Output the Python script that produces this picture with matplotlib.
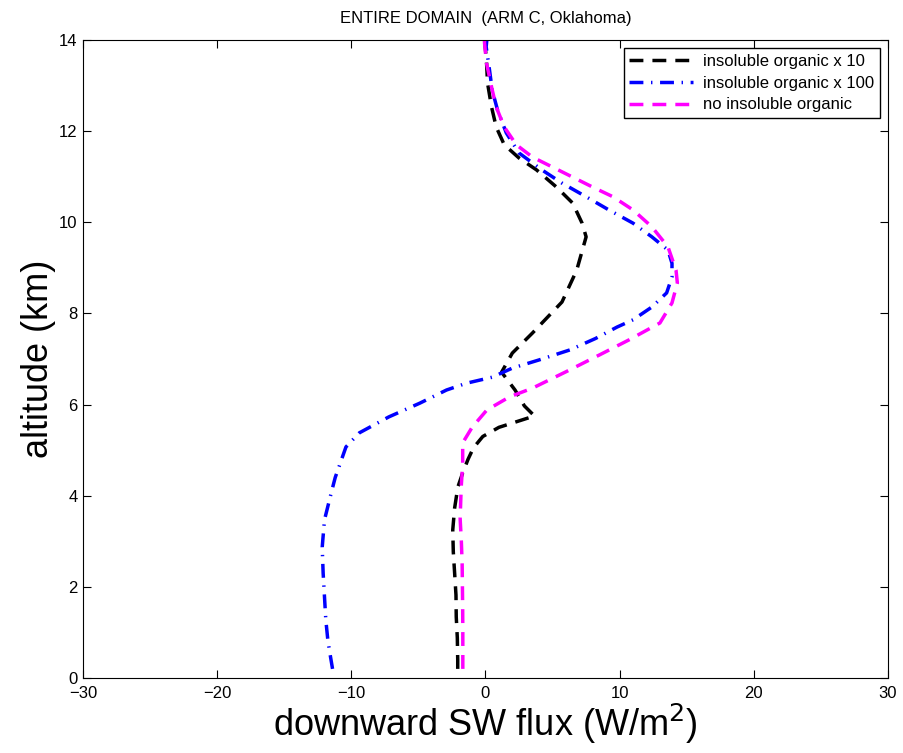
import matplotlib
matplotlib.use('Agg')
import matplotlib.pyplot as plt

plt.rcParams['font.family'] = ['Liberation Sans', 'DejaVu Sans']

# insoluble organic x 10
alt_x10 = [0.2, 0.4, 0.88, 1.34, 1.82, 2.3, 2.77, 3.25, 3.73, 4.19, 4.5, 4.8, 5.05, 5.3, 5.5, 5.75,
           5.97, 6.32, 6.71, 7.13, 7.57, 8.25, 8.95, 9.68, 9.98, 10.42, 10.77, 11.15, 11.41, 11.7,
           12.09, 12.53, 13.06, 13.56, 14.0]
flux_x10 = [-2.07, -2.07, -2.1, -2.18, -2.2, -2.3, -2.4, -2.44, -2.3, -2.06, -1.7, -1.3, -0.9, -0.2, 1.0, 3.65,
            2.9, 2.2, 1.2, 2.0, 3.5, 5.7, 6.8, 7.5, 7.2, 6.5, 5.3, 3.8, 2.5, 1.4,
            0.8, 0.45, 0.15, 0.07, -0.07]

# insoluble organic x 100
alt_x100 = [0.2, 0.55, 0.83, 1.27, 1.78, 2.3, 2.87, 3.47, 4.06, 4.4, 4.65, 5.07, 5.38, 5.73, 6.03, 6.32,
            6.47, 6.6, 6.8, 6.98, 7.2, 7.45, 7.7, 7.86, 8.14, 8.45, 8.8, 9.1, 9.39, 9.68, 9.98,
            10.27, 10.56, 10.86, 11.15, 11.52, 11.96, 12.46, 12.9, 13.34, 13.85, 14.0]
flux_x100 = [-11.4, -11.6, -11.75, -11.9, -12.0, -12.1, -12.17, -12.0, -11.5, -11.2, -10.9, -10.4, -9.4, -7.2, -4.9, -2.9,
             -1.4, 0.5, 2.0, 4.0, 6.3, 8.2, 9.8, 11.0, 12.4, 13.5, 13.9, 13.9, 13.6, 12.4, 11.0,
             9.2, 7.5, 5.7, 4.2, 2.5, 1.55, 0.9, 0.5, 0.3, 0.05, 0.1]

# no insoluble organic
alt_no = [0.2, 0.5, 1.0, 1.5, 2.0, 2.5, 3.0, 3.5, 4.19, 4.7, 5.16, 5.5, 5.88, 6.17, 6.36, 6.72, 7.09,
          7.42, 7.79, 8.23, 8.67, 8.95, 9.46, 9.9, 10.27, 10.56, 10.77, 10.99, 11.21, 11.43, 11.7,
          12.09, 12.53, 12.97, 13.5, 13.93, 14.0]
flux_no = [-1.69, -1.69, -1.69, -1.7, -1.72, -1.74, -1.8, -1.89, -1.81, -1.7, -1.7, -1.0, 0.1, 1.8, 3.5, 6.0, 8.5,
           10.7, 13.0, 13.9, 14.3, 14.2, 13.6, 12.4, 11.0, 9.5, 8.0, 6.5, 5.0, 3.5, 2.3,
           1.4, 0.8, 0.45, 0.07, -0.07, -0.07]

fig = plt.figure(figsize=(9.04, 7.53), dpi=100)
ax = fig.add_axes([0.0918, 0.0996, 0.8905, 0.8473])

ax.plot(flux_x10, alt_x10, color='black', linestyle=(0, (4, 2.6)), linewidth=2.5,
        label='insoluble organic x 10')
ax.plot(flux_x100, alt_x100, color='blue', linestyle=(0, (4, 2.2, 0.4, 2.2)), linewidth=2.5,
        label='insoluble organic x 100')
ax.plot(flux_no, alt_no, color='magenta', linestyle=(0, (4, 2.6)), linewidth=2.5,
        label='no insoluble organic')

ax.set_xlim(-30, 30)
ax.set_ylim(0, 14)
ax.set_xticks([-30, -20, -10, 0, 10, 20, 30])
ax.set_yticks([0, 2, 4, 6, 8, 10, 12, 14])
ax.set_xticklabels(['\u221230', '\u221220', '\u221210', '0', '10', '20', '30'])
ax.tick_params(direction='in', top=True, right=True, labelsize=12, length=6, pad=4)
ax.tick_params(axis='x', pad=6)

ax.set_title('ENTIRE DOMAIN  (ARM C, Oklahoma)', fontsize=12, pad=12)
ax.set_xlabel('downward SW flux (W/m$^2$)', fontsize=26, labelpad=0)
ax.set_ylabel('altitude (km)', fontsize=26, labelpad=2)

leg = ax.legend(loc='upper right', fontsize=12, fancybox=False, framealpha=1,
                edgecolor='black', handlelength=3.8, borderaxespad=0.5,
                labelspacing=0.4, borderpad=0.35, handletextpad=0.6)
leg.get_frame().set_linewidth(1)

fig.savefig('out.png', dpi=100)
